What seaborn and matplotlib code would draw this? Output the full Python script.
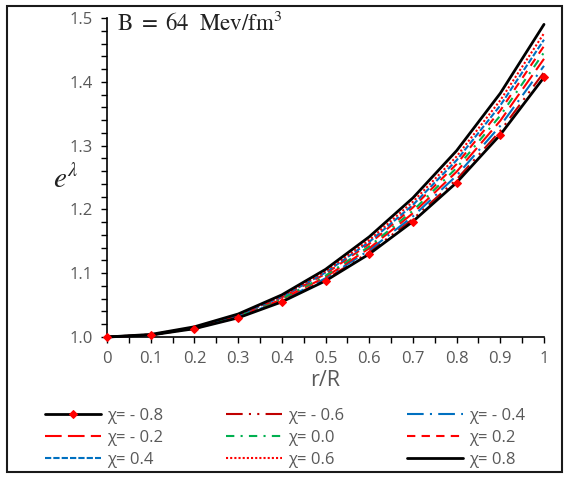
import numpy as np
import pandas as pd
import matplotlib
matplotlib.use("Agg")
import matplotlib.pyplot as plt
from matplotlib.patches import Rectangle
from matplotlib.ticker import MultipleLocator
import seaborn as sns

# ---- data ----
r_over_R = [0.0, 0.1, 0.2, 0.3, 0.4, 0.5, 0.6, 0.7, 0.8, 0.9, 1.0]
chi_labels = ["χ= - 0.8", "χ= - 0.6", "χ= - 0.4", "χ= - 0.2", "χ= 0.0",
              "χ= 0.2", "χ= 0.4", "χ= 0.6", "χ= 0.8"]
e_lambda_m08 = [1.000, 1.003, 1.013, 1.030, 1.055, 1.088, 1.130, 1.181, 1.242, 1.317, 1.407]
e_lambda_m06 = [1.000, 1.003, 1.013, 1.031, 1.056, 1.090, 1.133, 1.185, 1.247, 1.323, 1.415]
e_lambda_m04 = [1.000, 1.003, 1.014, 1.031, 1.057, 1.092, 1.136, 1.189, 1.253, 1.331, 1.425]
e_lambda_m02 = [1.000, 1.003, 1.014, 1.032, 1.059, 1.094, 1.139, 1.194, 1.259, 1.339, 1.436]
e_lambda_p00 = [1.000, 1.003, 1.014, 1.033, 1.060, 1.096, 1.142, 1.198, 1.265, 1.347, 1.446]
e_lambda_p02 = [1.000, 1.003, 1.015, 1.034, 1.062, 1.099, 1.146, 1.203, 1.271, 1.355, 1.456]
e_lambda_p04 = [1.000, 1.003, 1.015, 1.034, 1.063, 1.101, 1.149, 1.207, 1.277, 1.363, 1.466]
e_lambda_p06 = [1.000, 1.004, 1.015, 1.035, 1.064, 1.103, 1.152, 1.212, 1.283, 1.371, 1.476]
e_lambda_p08 = [1.000, 1.004, 1.016, 1.036, 1.066, 1.106, 1.157, 1.218, 1.292, 1.382, 1.490]
series = [e_lambda_m08, e_lambda_m06, e_lambda_m04, e_lambda_m02, e_lambda_p00,
          e_lambda_p02, e_lambda_p04, e_lambda_p06, e_lambda_p08]
x_tick_labels = ["0", "0.1", "0.2", "0.3", "0.4", "0.5", "0.6", "0.7", "0.8", "0.9", "1"]
y_ticks = [1.0, 1.1, 1.2, 1.3, 1.4, 1.5]
y_tick_labels = ["1.0", "1.1", "1.2", "1.3", "1.4", "1.5"]

# ---- styles ----
styles = [
    dict(color="black", lw=2.0, ls="-", marker="D", ms=4.5, mfc="#FF0000", mec="#FF0000"),
    dict(color="#C00000", lw=1.5, ls=(0, (8, 3, 1, 3, 1, 3))),
    dict(color="#0070C0", lw=1.5, ls=(0, (8, 3, 1, 3))),
    dict(color="#FF0000", lw=1.5, ls=(0, (8, 3))),
    dict(color="#00B050", lw=1.5, ls=(0, (4, 3, 1, 3))),
    dict(color="#FF0000", lw=1.5, ls=(0, (4, 3))),
    dict(color="#0070C0", lw=1.5, ls=(0, (3, 1))),
    dict(color="#FF0000", lw=1.5, ls=(0, (1, 1))),
    dict(color="black", lw=2.0, ls="-"),
]

sns.set_style("ticks")
plt.rcParams["font.family"] = ["Open Sans", "DejaVu Sans"]
plt.rcParams["mathtext.fontset"] = "stix"

fig = plt.figure(figsize=(5.7, 4.8), dpi=100)
ax = fig.add_axes([107 / 570, 1 - 337 / 480, (544 - 107) / 570, (337 - 18) / 480])

handles = []
for i, (vals, lab, st) in enumerate(zip(series, chi_labels, styles)):
    df = pd.DataFrame({"r/R": r_over_R, "e": vals})
    kw = dict(color=st["color"], linewidth=st["lw"], linestyle=st["ls"])
    if "marker" in st:
        kw.update(marker=st["marker"], markersize=st["ms"],
                  markerfacecolor=st["mfc"], markeredgecolor=st["mec"])
    sns.lineplot(data=df, x="r/R", y="e", ax=ax, errorbar=None, label=lab,
                 legend=False, zorder=(10 if i == 0 else 3 + (i == 8)), clip_on=False, **kw)
    handles.append(ax.get_lines()[-1])

ax.set_xlim(0, 1)
ax.set_ylim(1.0, 1.5)
ax.set_xticks(r_over_R)
ax.set_xticklabels(x_tick_labels)
ax.xaxis.set_minor_locator(MultipleLocator(0.05))
ax.set_yticks(y_ticks)
ax.set_yticklabels(y_tick_labels)
ax.yaxis.set_minor_locator(MultipleLocator(0.02))
for s in ["top", "right"]:
    ax.spines[s].set_visible(False)
for s in ["left", "bottom"]:
    ax.spines[s].set_color("black")
    ax.spines[s].set_linewidth(1.2)
ax.tick_params(which="both", direction="out", length=4, width=1.0, color="black")
ax.tick_params(which="major", labelsize=12, labelcolor="#595959", pad=6)

ax.set_xlabel("r/R", fontsize=15.5, color="#595959", labelpad=2)
ax.set_ylabel("")
fig.text(66 / 570, 1 - 181 / 480, r"$e^{\lambda}$", fontsize=21, color="#222222",
         ha="center", va="center")
fig.text(117 / 570, 1 - 24 / 480, r"$\mathrm{B\ =\ 64\ \ Mev/fm^3}$", fontsize=16.5,
         color="#222222", ha="left", va="center")

order = [0, 3, 6, 1, 4, 7, 2, 5, 8]
leg = fig.legend([handles[k] for k in order], [chi_labels[k] for k in order],
                 ncol=3, loc="center", bbox_to_anchor=(0.5, 1 - 438 / 480),
                 frameon=False, fontsize=12, handlelength=3.4, handletextpad=0.35,
                 columnspacing=3.75, labelspacing=0.36, numpoints=1)
for t in leg.get_texts():
    t.set_color("#595959")

fig.add_artist(Rectangle((7 / 570, 1 - 472 / 480), (562 - 7) / 570, (472 - 6) / 480,
                         transform=fig.transFigure, fill=False, edgecolor="#1a1a1a",
                         linewidth=1.5))

fig.savefig("out.png", dpi=100)
